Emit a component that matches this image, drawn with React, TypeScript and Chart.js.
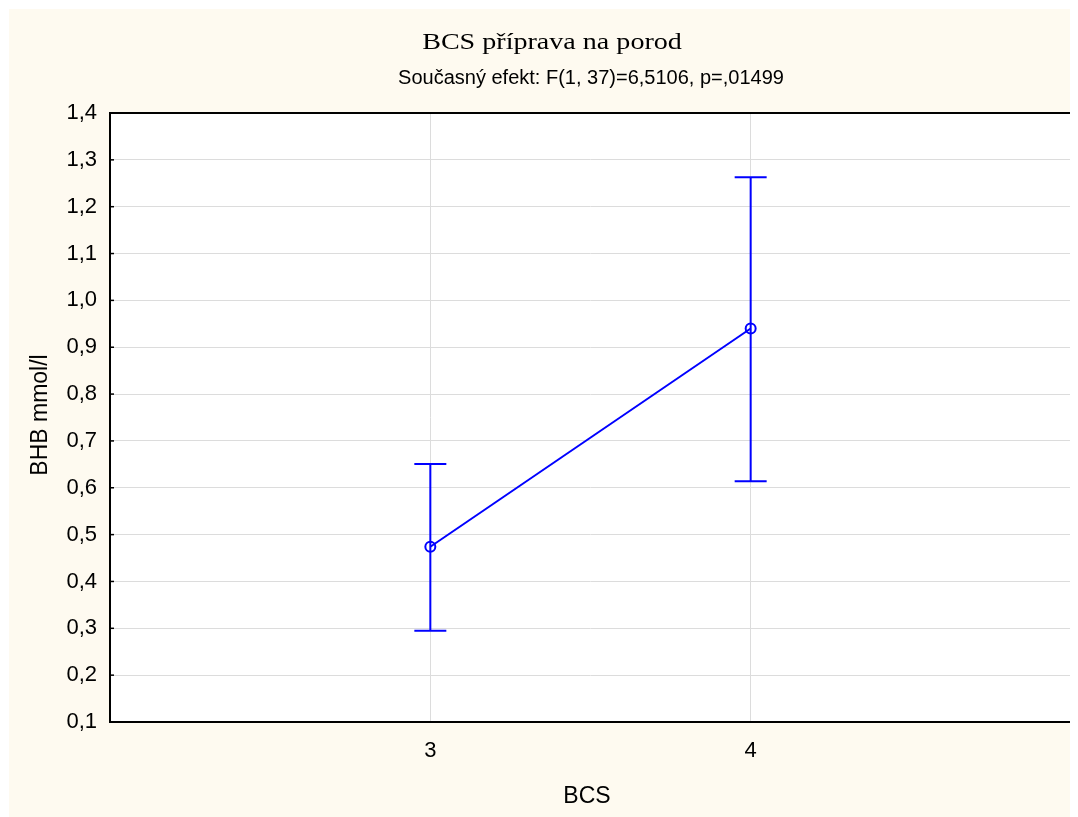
import React, { useEffect, useRef } from "react";
import { Chart, registerables } from "chart.js";

Chart.register(...registerables);

const chartTitle = "BCS příprava na porod";
const chartSubtitle = "Současný efekt: F(1, 37)=6,5106, p=,01499";
const xAxisTitle = "BCS";
const yAxisTitle = "BHB mmol/l";

const categories = [3, 4];
const means = [0.474, 0.94];
const upperLimits = [0.651, 1.263];
const lowerLimits = [0.295, 0.614];
const yTickValues = [0.1, 0.2, 0.3, 0.4, 0.5, 0.6, 0.7, 0.8, 0.9, 1.0, 1.1, 1.2, 1.3, 1.4];
const xRange = [2, 5];

const BG = "#FEFAF0";
const BLUE = "#0000FF";
const SANS = "'Liberation Sans', Arial, sans-serif";
const SERIF = "'Liberation Serif', 'Times New Roman', serif";

const W = 1069;
const H = 808;

const decor = {
  id: "decor",
  beforeDraw(chart: any) {
    const { ctx, chartArea: a } = chart;
    ctx.save();
    ctx.fillStyle = BG;
    ctx.fillRect(0, 0, chart.width, chart.height);
    ctx.fillStyle = "#FFFFFF";
    ctx.fillRect(a.left, a.top, a.right - a.left, a.bottom - a.top);
    ctx.restore();
  },
  afterDatasetsDraw(chart: any) {
    const { ctx } = chart;
    const xs = chart.scales.x;
    const ys = chart.scales.y;
    ctx.save();
    ctx.strokeStyle = BLUE;
    ctx.lineWidth = 2;
    categories.forEach((c, i) => {
      const x = xs.getPixelForValue(c);
      const yt = ys.getPixelForValue(upperLimits[i]);
      const yb = ys.getPixelForValue(lowerLimits[i]);
      const half = 16;
      ctx.beginPath();
      ctx.moveTo(x, yt);
      ctx.lineTo(x, yb);
      ctx.moveTo(x - half, yt);
      ctx.lineTo(x + half, yt);
      ctx.moveTo(x - half, yb);
      ctx.lineTo(x + half, yb);
      ctx.stroke();
    });
    ctx.restore();
  },
  afterDraw(chart: any) {
    const { ctx, chartArea: a } = chart;
    const ys = chart.scales.y;
    ctx.save();
    ctx.strokeStyle = "#000000";
    ctx.lineWidth = 1.5;
    yTickValues.forEach((v) => {
      const y = ys.getPixelForValue(v);
      ctx.beginPath();
      ctx.moveTo(a.left, y);
      ctx.lineTo(a.left + 4, y);
      ctx.stroke();
    });
    ctx.lineWidth = 2;
    ctx.strokeRect(a.left, a.top, a.right - a.left, a.bottom - a.top);

    ctx.fillStyle = "#000000";
    ctx.textAlign = "center";
    ctx.textBaseline = "alphabetic";
    ctx.save();
    ctx.font = `24px ${SERIF}`;
    ctx.translate(543, 40);
    ctx.scale(1.17, 1);
    ctx.fillText(chartTitle, 0, 0);
    ctx.restore();
    ctx.font = `20px ${SANS}`;
    ctx.fillText(chartSubtitle, 582, 75);
    ctx.font = `23px ${SANS}`;
    ctx.fillText(xAxisTitle, 578, 794);
    ctx.translate(38, 406);
    ctx.rotate(-Math.PI / 2);
    ctx.fillText(yAxisTitle, 0, 0);
    ctx.restore();
  },
};

export default function App() {
  const ref = useRef<HTMLCanvasElement | null>(null);
  useEffect(() => {
    if (!ref.current) return;
    const chart = new Chart(ref.current, {
      type: "line",
      data: {
        datasets: [
          {
            data: categories.map((c, i) => ({ x: c, y: means[i] })),
            borderColor: BLUE,
            borderWidth: 2,
            pointRadius: 5,
            pointBorderWidth: 2,
            pointBorderColor: BLUE,
            pointBackgroundColor: "rgba(255,255,255,0)",
            pointStyle: "circle",
            tension: 0,
          },
        ],
      },
      options: {
        responsive: false,
        animation: false,
        devicePixelRatio: 1,
        layout: { padding: { top: 104, right: 7, left: 0, bottom: 0 } },
        plugins: {
          legend: { display: false },
          tooltip: { enabled: false },
          title: { display: false },
        },
        scales: {
          x: {
            type: "linear",
            min: xRange[0],
            max: xRange[1],
            afterBuildTicks: (s: any) => {
              s.ticks = categories.map((v) => ({ value: v }));
            },
            afterFit: (s: any) => {
              s.height = 95;
            },
            ticks: {
              color: "#000000",
              font: { family: SANS, size: 22 },
              padding: 16,
              callback: (v: any) => String(v),
            },
            grid: { color: "#DCDCDC", lineWidth: 1, drawTicks: false },
            border: { display: false },
          },
          y: {
            type: "linear",
            min: yTickValues[0],
            max: yTickValues[yTickValues.length - 1],
            afterBuildTicks: (s: any) => {
              s.ticks = yTickValues.map((v) => ({ value: v }));
            },
            afterFit: (s: any) => {
              s.width = 101;
            },
            ticks: {
              color: "#000000",
              font: { family: SANS, size: 22 },
              padding: 13,
              callback: (v: any) => Number(v).toFixed(1).replace(".", ","),
            },
            grid: { color: "#DCDCDC", lineWidth: 1, drawTicks: false },
            border: { display: false },
          },
        },
      },
      plugins: [decor],
    });
    return () => chart.destroy();
  }, []);
  return (
    <div style={{ width: W, height: H, paddingLeft: 1, paddingTop: 1 }}>
      <canvas ref={ref} width={W} height={H} style={{ display: "block", width: W, height: H }} />
    </div>
  );
}
